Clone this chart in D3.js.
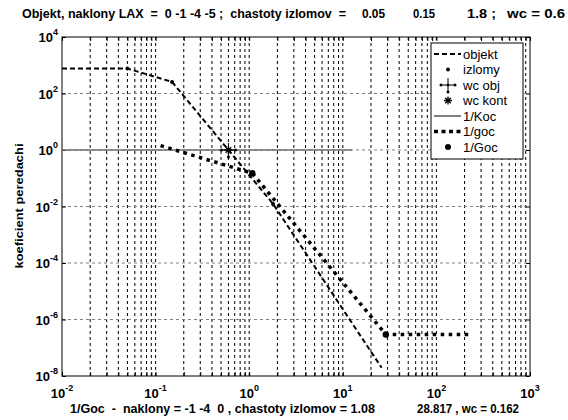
<!DOCTYPE html>
<html>
<head>
<meta charset="utf-8">
<script src="https://cdn.jsdelivr.net/npm/d3@7"></script>
<style>
  body { margin: 0; background: #fff; overflow: hidden; }
  svg { display: block; }
  text { font-family: "Liberation Sans", Arial, sans-serif; }
  .bold { font-weight: bold; }
</style>
</head>
<body>
<div id="chart"></div>
<script>
// Data
const objFreq = [0.01, 0.05, 0.15, 1.8, 26];
const objMag = [768, 768, 256, 0.01235, 1.96e-8];
const breakFreq = [0.05, 0.15, 1.8];
const breakMag = [768, 256, 0.01235];
const kocFreq = [0.01, 12.5];
const kocMag = [1, 1];
const gocFreq = [0.113, 1.08, 28.817, 240];
const gocMag = [1.43, 0.15, 2.96e-7, 2.96e-7];
const gocBreakFreq = [1.08, 28.817];
const gocBreakMag = [0.15, 2.96e-7];
const wcFreq = [0.6];
const wcMag = [1];
const xTickExp = [-2, -1, 0, 1, 2, 3];
const yTickExp = [-8, -6, -4, -2, 0, 2, 4];
const legendLabels = ["objekt", "izlomy", "wc obj", "wc kont", "1/Koc", "1/goc", "1/Goc"];

// Set up dimensions
const width = 568;
const height = 420;
const margin = { top: 37, right: 38, bottom: 44, left: 62 };
const innerWidth = width - margin.left - margin.right;
const innerHeight = height - margin.top - margin.bottom;

const svg = d3.select("#chart")
    .append("svg")
    .attr("width", width)
    .attr("height", height);

const chart = svg.append("g")
    .attr("transform", `translate(${margin.left}, ${margin.top})`);

const x = d3.scaleLog().domain([1e-2, 1e3]).range([0, innerWidth]);
const y = d3.scaleLog().domain([1e-8, 1e4]).range([innerHeight, 0]);

// minor positions for the vertical grid
const xMinor = [];
for (let e = -2; e < 3; e++) {
    for (let m = 1; m < 10; m++) xMinor.push(m * Math.pow(10, e));
}
xMinor.push(1e3);

// Grid
chart.append("g")
    .selectAll("line")
    .data(xMinor.filter(v => v > 1e-2 && v < 1e3))
    .enter()
    .append("line")
    .attr("x1", d => x(d)).attr("x2", d => x(d))
    .attr("y1", 0).attr("y2", innerHeight)
    .attr("stroke", "#000")
    .attr("stroke-width", 1)
    .attr("stroke-dasharray", "3,3");

chart.append("g")
    .selectAll("line")
    .data(yTickExp.slice(1, -1))
    .enter()
    .append("line")
    .attr("x1", 0).attr("x2", innerWidth)
    .attr("y1", d => y(Math.pow(10, d))).attr("y2", d => y(Math.pow(10, d)))
    .attr("stroke", "#808080")
    .attr("stroke-width", 1)
    .attr("stroke-dasharray", "3,3");

// Axis ticks (inward, all four sides)
chart.append("g")
    .attr("transform", `translate(0, ${innerHeight})`)
    .call(d3.axisBottom(x).tickValues(xMinor).tickSize(-4).tickFormat(""))
    .call(g => g.select(".domain").remove());
chart.append("g")
    .call(d3.axisTop(x).tickValues(xMinor).tickSize(-4).tickFormat(""))
    .call(g => g.select(".domain").remove());
chart.append("g")
    .call(d3.axisLeft(y).tickValues(yTickExp.map(e => Math.pow(10, e))).tickSize(-4).tickFormat(""))
    .call(g => g.select(".domain").remove());
chart.append("g")
    .attr("transform", `translate(${innerWidth}, 0)`)
    .call(d3.axisRight(y).tickValues(yTickExp.map(e => Math.pow(10, e))).tickSize(-4).tickFormat(""))
    .call(g => g.select(".domain").remove());

// Box
chart.append("rect")
    .attr("x", 0).attr("y", 0)
    .attr("width", innerWidth).attr("height", innerHeight)
    .attr("fill", "none")
    .attr("stroke", "#000")
    .attr("stroke-width", 1);

// Tick labels as 10 with superscript
function powLabel(sel, e) {
    sel.append("tspan").text("10");
    sel.append("tspan")
        .attr("dy", -7)
        .style("font-size", "9px")
        .text(e);
}

chart.selectAll(".xlab")
    .data(xTickExp)
    .enter()
    .append("text")
    .attr("class", "xlab bold")
    .attr("x", d => x(Math.pow(10, d)))
    .attr("y", innerHeight + 22)
    .attr("text-anchor", "middle")
    .style("font-size", "13px")
    .each(function (d) { powLabel(d3.select(this), d); });

chart.selectAll(".ylab")
    .data(yTickExp)
    .enter()
    .append("text")
    .attr("class", "ylab bold")
    .attr("x", -4)
    .attr("y", d => y(Math.pow(10, d)) + 5)
    .attr("text-anchor", "end")
    .style("font-size", "13px")
    .each(function (d) { powLabel(d3.select(this), d); });

// Lines
const line = d3.line().x(d => x(d[0])).y(d => y(d[1]));

chart.append("path")
    .datum(d3.zip(kocFreq, kocMag))
    .attr("d", line)
    .attr("fill", "none")
    .attr("stroke", "#6e6e6e")
    .attr("stroke-width", 1.5);

chart.append("path")
    .datum(d3.zip(objFreq, objMag))
    .attr("d", line)
    .attr("fill", "none")
    .attr("stroke", "#000")
    .attr("stroke-width", 2)
    .attr("stroke-dasharray", "5,3");

chart.append("path")
    .datum(d3.zip(gocFreq, gocMag))
    .attr("d", line)
    .attr("fill", "none")
    .attr("stroke", "#000")
    .attr("stroke-width", 3.5)
    .attr("stroke-dasharray", "3.5,4.5");

// Markers
function drawDot(g, cx, cy, r) {
    g.append("circle").attr("cx", cx).attr("cy", cy).attr("r", r).attr("fill", "#000");
}
function drawPlus(g, cx, cy) {
    g.append("path")
        .attr("d", `M${cx - 7},${cy}H${cx + 7}M${cx},${cy - 7}V${cy + 7}`)
        .attr("stroke", "#000").attr("stroke-width", 1);
    [[-7, 0], [7, 0], [0, 7]].forEach(p => drawDot(g, cx + p[0], cy + p[1], 1.5));
    drawDot(g, cx, cy, 1.5);
}
function drawStar(g, cx, cy) {
    const r = 4;
    const d = [0, 45, 90, 135].map(a => {
        const dx = r * Math.cos(a * Math.PI / 180), dy = r * Math.sin(a * Math.PI / 180);
        return `M${cx - dx},${cy - dy}L${cx + dx},${cy + dy}`;
    }).join("");
    g.append("path").attr("d", d).attr("stroke", "#000").attr("stroke-width", 1.3);
}

const marks = chart.append("g");
breakFreq.forEach((f, i) => drawDot(marks, x(f), y(breakMag[i]), 2));
gocBreakFreq.forEach((f, i) => drawDot(marks, x(f), y(gocBreakMag[i]), 3.2));
wcFreq.forEach((f, i) => {
    drawPlus(marks, x(f), y(wcMag[i]));
    drawStar(marks, x(f), y(wcMag[i]));
});

// Legend
const legend = svg.append("g").attr("transform", "translate(431, 43)");
legend.append("rect")
    .attr("width", 92).attr("height", 116)
    .attr("fill", "#fff")
    .attr("stroke", "#000")
    .attr("stroke-width", 1);

legendLabels.forEach((lab, i) => {
    const ly = 11 + i * 15.5;
    const row = legend.append("g");
    if (i === 0) {
        row.append("line").attr("x1", 3).attr("x2", 30).attr("y1", ly).attr("y2", ly)
            .attr("stroke", "#000").attr("stroke-width", 2).attr("stroke-dasharray", "5,3");
    } else if (i === 1) {
        drawDot(row, 17, ly, 2);
    } else if (i === 2) {
        drawPlus(row, 17, ly);
    } else if (i === 3) {
        drawStar(row, 17, ly);
    } else if (i === 4) {
        row.append("line").attr("x1", 3).attr("x2", 30).attr("y1", ly).attr("y2", ly)
            .attr("stroke", "#000").attr("stroke-width", 1);
    } else if (i === 5) {
        row.append("line").attr("x1", 3).attr("x2", 30).attr("y1", ly).attr("y2", ly)
            .attr("stroke", "#000").attr("stroke-width", 3.5).attr("stroke-dasharray", "4,3.5");
    } else {
        drawDot(row, 17, ly, 3);
    }
    row.append("text")
        .attr("x", 32)
        .attr("y", ly + 4.5)
        .style("font-size", "13px")
        .text(lab);
});

// Title and bottom text (non-breaking spaces keep the wide gaps)
const sp = "\u00a0";
const titleParts = [
    { t: `Objekt, naklony LAX${sp}${sp}=${sp}${sp}0 -1 -4 -5 ;${sp}${sp}chastoty izlomov${sp}${sp}=`, x: 22, len: 324 },
    { t: "0.05", x: 362, len: 23 },
    { t: "0.15", x: 413, len: 22 },
    { t: "1.8 ;", x: 467, len: 29 },
    { t: "wc = 0.6", x: 507, len: 58 }
];
const bottomParts = [
    { t: `1/Goc${sp}${sp}-${sp}${sp}naklony = -1 -4${sp}${sp}0 , chastoty izlomov = 1.08`, x: 70, len: 305 },
    { t: "28.817 , wc = 0.162", x: 417, len: 102 }
];

svg.selectAll(".title")
    .data(titleParts)
    .enter()
    .append("text")
    .attr("class", "title bold")
    .attr("x", d => d.x)
    .attr("y", 18)
    .attr("textLength", d => d.len)
    .attr("lengthAdjust", "spacingAndGlyphs")
    .style("font-size", "13px")
    .text(d => d.t);

svg.selectAll(".bottom")
    .data(bottomParts)
    .enter()
    .append("text")
    .attr("class", "bottom bold")
    .attr("x", d => d.x)
    .attr("y", 413)
    .attr("textLength", d => d.len)
    .attr("lengthAdjust", "spacingAndGlyphs")
    .style("font-size", "13px")
    .text(d => d.t);

// Y axis label
svg.append("text")
    .attr("class", "bold")
    .attr("transform", "translate(23, 206) rotate(-90)")
    .attr("text-anchor", "middle")
    .attr("textLength", 125)
    .attr("lengthAdjust", "spacingAndGlyphs")
    .style("font-size", "11px")
    .text("koeficient peredachi");
</script>
</body>
</html>
